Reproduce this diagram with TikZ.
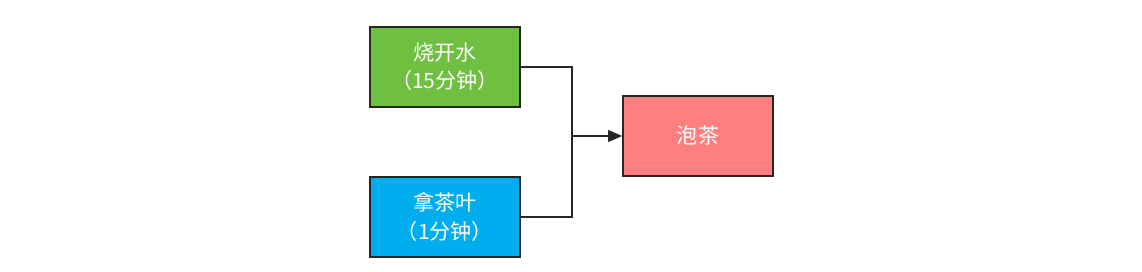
\documentclass[tikz,border=0pt]{standalone}
\usepackage{fontspec}
\setmainfont{Noto Sans CJK SC}
\usetikzlibrary{arrows.meta,positioning}

\definecolor{boilgreen}{HTML}{6FBF40}
\definecolor{leafblue}{HTML}{00AEEF}
\definecolor{teared}{HTML}{FF7F7F}

\begin{document}
\begin{tikzpicture}[
    task/.style={rectangle, draw=black!85, line width=0.8pt, minimum width=3cm, minimum height=1.6cm,
                 text=white, font=\fontsize{12}{16}\selectfont, align=center},
    link/.style={draw=black!85, line width=1.3pt},
    arrow/.style={link, -{Triangle[length=8pt,width=6.5pt]}}
]
\useasboundingbox (0,0) rectangle (22.84,5.44);

% Tasks
\node[task, fill=boilgreen] (boil) at (8.9, 4.1) {烧开水\\（15分钟）};
\node[task, fill=leafblue] (leaf) at (8.9, 1.1) {拿茶叶\\（1分钟）};
\node[task, fill=teared] (brew) at (13.96, 2.72) {泡茶};

% Connections
\coordinate (merge) at (11.44, 2.72);
\draw[link] (boil.east) -| (merge) |- (leaf.east);
\draw[arrow] (merge) -- (brew.west);

\end{tikzpicture}
\end{document}
